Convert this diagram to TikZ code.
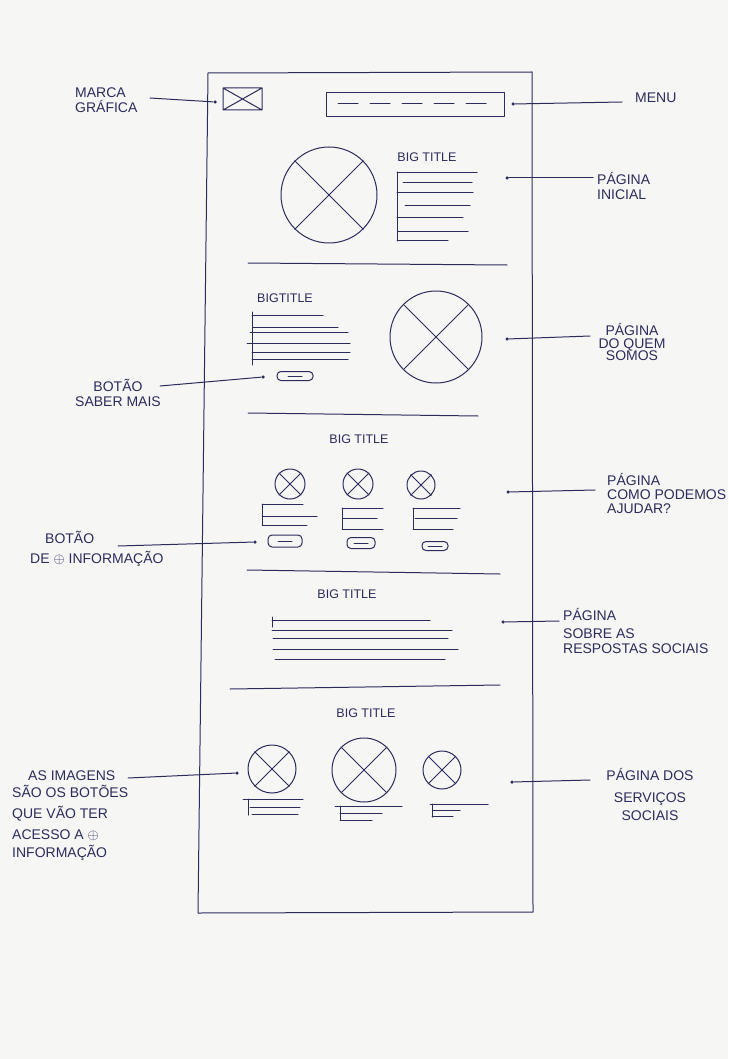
\documentclass[tikz,border=0pt]{standalone}
\usepackage{fontspec}
\setmainfont{Liberation Sans}
\definecolor{ink}{RGB}{44,44,92}
\definecolor{paper}{RGB}{246,246,245}

\begin{document}
\begin{tikzpicture}[x=1pt, y=-1pt, line cap=round, line join=round,
		pen/.style={draw=ink, line width=1pt},
		note/.style={text=ink, font=\fontsize{14}{15}\selectfont, inner sep=0pt},
		heading/.style={text=ink, font=\fontsize{12.5}{14}\selectfont, inner sep=0pt, anchor=base},
		dot/.style={circle, fill=ink, inner sep=0pt, minimum size=3.5pt},
		img/.style={circle, pen, inner sep=0pt},
		btn/.style={pen, rounded corners=4pt, inner sep=0pt}]

		\fill[paper] (0,0) rectangle (728,1059);
		\useasboundingbox (0,0) rectangle (728,1059);

		% page frame
		\draw[pen] (208,73) -- (532,72) -- (533,912) -- (198,913) -- cycle;

		% header: logo and menu bar
		\draw[pen] (223,88) rectangle (262,110) (223,88) -- (262,110) (223,110) -- (262,88);
		\draw[pen] (326,93) rectangle (504,117);
		\draw[pen, dash pattern=on 20pt off 12pt] (338,104) -- (498,104);

		% section dividers
		\foreach \xa/\ya/\xb/\yb in {
				248/263/507/265,
				248/413/478/416,
				247/570/500/574,
				230/689/500/685
			} {
				\draw[pen] (\xa,\ya) -- (\xb,\yb);
			}

		% titles
		\node[heading] (title1) at (427,162) {BIG TITLE};
		\node[heading] (title2) at (285,302) {BIGTITLE};
		\node[heading] (title3) at (359,443) {BIG TITLE};
		\node[heading] (title4) at (347,598) {BIG TITLE};
		\node[heading] (title5) at (366,717) {BIG TITLE};

		% image placeholders
		\foreach \n/\x/\y/\d in {
				img1/329/195/96pt,
				img2/436/337/92pt,
				img3/290/484/30pt,
				img4/358/484/30pt,
				img5/421/485/28pt,
				img6/272/769/48pt,
				img7/364/770/64pt,
				img8/442/770/38pt
			} {
				\node[img, minimum size=\d] (\n) at (\x,\y) {};
				\draw[pen] (\n.135) -- (\n.-45) (\n.45) -- (\n.-135);
			}

		% text lines
		\foreach \y/\a/\b in {
				173/397/477, 183/403/472, 193/397/473, 206/405/470, 218/397/463, 232/398/468, 241/397/448,
				315/252/323, 327/253/338, 332/250/348, 343/247/350, 352/252/350, 359/252/348,
				504/262/303, 516/262/317, 525/262/307,
				508/342/383, 518/343/377, 529/342/383,
				508/413/460, 518/415/457, 529/413/453,
				620/272/430, 630/272/452, 638/273/448, 649/273/458, 659/275/445,
				799/243/303, 807/250/300, 814/252/298,
				806/335/402, 813/340/382, 820/340/372,
				804/430/488, 810/433/460, 816/432/453
			} {
				\draw[pen] (\a,\y) -- (\b,\y);
			}
		\foreach \x/\ya/\yb in {
				397/172/241, 252/312/365, 262/504/525, 342/508/529, 413/508/529,
				272/617/627, 248/799/815, 340/806/820, 432/804/817
			} {
				\draw[pen] (\x,\ya) -- (\x,\yb);
			}

		% buttons
		\foreach \n/\x/\y/\w/\h in {
				btn1/295/376/36pt/9pt,
				btn2/285/541/34pt/12pt,
				btn3/361/543/28pt/11pt,
				btn4/435/546/26pt/9pt
			} {
				\node[btn, minimum width=\w, minimum height=\h] (\n) at (\x,\y) {};
				\draw[pen] ([xshift=-7pt]\n.center) -- ([xshift=7pt]\n.center);
			}

		% notes (placed at the baseline of their last line)
		\node[note, anchor=base west, align=left] (marca) at (75,113) {MARCA\\GRÁFICA};
		\node[note, anchor=base west] (menu) at (635,103) {MENU};
		\node[note, anchor=base west, align=left] (inicial) at (597,200) {PÁGINA\\INICIAL};
		\node[note, anchor=base, align=center] (quem) at (632,360) {PÁGINA\\[-2pt]DO QUEM\\[-3pt]SOMOS};
		\node[note, anchor=base, align=center] (saber) at (118,406) {BOTÃO\\SABER MAIS};
		\node[note, anchor=base west, align=left] (ajudar) at (607,513) {PÁGINA\\[-1pt]COMO PODEMOS\\[-1pt]AJUDAR?};
		\node[note, anchor=base west, align=left] (info) at (30,563) {\hspace*{15pt}BOTÃO\\[5pt]DE $\oplus$ INFORMAÇÃO};
		\node[note, anchor=base west, align=left] (respostas) at (563,653) {PÁGINA\\[3pt]SOBRE AS\\RESPOSTAS SOCIAIS};
		\node[note, anchor=base, align=center] (servicos) at (650,820) {PÁGINA DOS\\[7pt]SERVIÇOS\\[3pt]SOCIAIS};
		\node[note, anchor=base west, align=left] (imagens) at (12,857) {\hspace*{16pt}AS IMAGENS\\[2pt]SÃO OS BOTÕES\\[6pt]QUE VÃO TER\\[6pt]ACESSO A $\oplus$\\[3pt]INFORMAÇÃO};

		% pointers
		\foreach \n/\dx/\dy/\ex/\ey in {
				marca/215/102/150/98,
				menu/513/104/622/102,
				inicial/507/178/593/178,
				quem/507/339/590/336,
				saber/263/377/160/386,
				ajudar/508/492/595/490,
				info/255/542/118/546,
				respostas/503/622/559/621,
				servicos/512/782/590/780,
				imagens/237/773/128/778
			} {
				\node[dot] (d-\n) at (\dx,\dy) {};
				\coordinate (e-\n) at (\ex,\ey);
				\draw[pen] (e-\n) -- (d-\n);
			}
	\end{tikzpicture}
\end{document}
